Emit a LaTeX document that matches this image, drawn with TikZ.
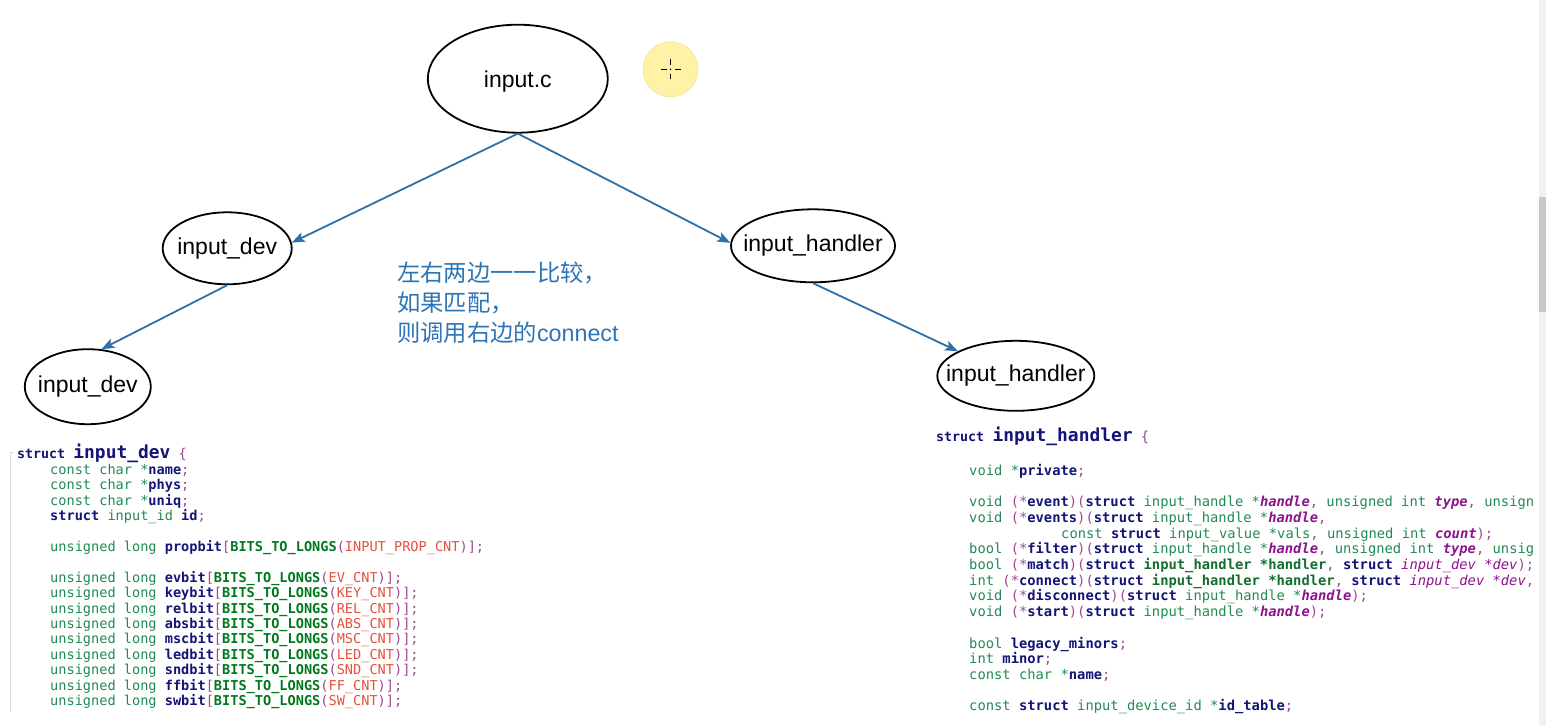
\documentclass[tikz,border=0pt]{standalone}
\usepackage{fontspec}
\setmainfont{Liberation Sans}
\newfontfamily\cjkfont{Noto Sans CJK SC}
\newfontfamily\codefont{DejaVu Sans Mono}
\usetikzlibrary{shapes.geometric,arrows.meta}
\definecolor{arrowblue}{RGB}{46,112,170}
\definecolor{noteblue}{RGB}{46,117,182}
\definecolor{cgreen}{RGB}{34,139,84}
\definecolor{cnavy}{RGB}{20,20,120}
\definecolor{cpunc}{RGB}{160,70,150}
\definecolor{cmacro}{RGB}{0,120,30}
\definecolor{cred}{RGB}{230,80,60}
\definecolor{cparam}{RGB}{140,20,140}
\definecolor{cbgreen}{RGB}{20,110,50}
\definecolor{sunyellow}{RGB}{253,242,165}
\definecolor{sunedge}{RGB}{240,228,150}
\definecolor{sbtrack}{RGB}{241,241,241}
\definecolor{sbthumb}{RGB}{200,200,200}
\definecolor{faintline}{RGB}{222,222,222}
\newcommand\cG[1]{\textcolor{cgreen}{#1}}
\newcommand\cN[1]{\textcolor{cnavy}{\bfseries #1}}
\newcommand\cP[1]{\textcolor{cpunc}{#1}}
\newcommand\cM[1]{\textcolor{cmacro}{\bfseries #1}}
\newcommand\cR[1]{\textcolor{cred}{#1}}
\newcommand\cI[1]{\textcolor{cparam}{\bfseries\itshape #1}}
\newcommand\cJ[1]{\textcolor{cparam}{\itshape #1}}
\newcommand\cB[1]{\textcolor{cbgreen}{\bfseries #1}}
\frenchspacing
\begin{document}
\begin{tikzpicture}[x=1pt,y=-1pt,
  ell/.style={draw, line width=1.8pt, ellipse, inner sep=0pt, font=\fontsize{23}{27}\selectfont},
  arr/.style={draw=arrowblue, line width=1.8pt, -{Stealth[length=13pt,width=10pt,inset=3pt]}},
  notetext/.style={anchor=base west, inner sep=0pt, text=noteblue, font=\fontsize{23.3}{30}\selectfont},
  codeL/.style={anchor=base west, inner sep=0pt, font=\codefont\fontsize{13.6}{15}\selectfont},
  codeR/.style={anchor=base west, inner sep=0pt, font=\codefont\fontsize{13.8}{15}\selectfont},
  cursor/.style={line width=1.3pt, black}]
\useasboundingbox (0,0) rectangle (1546,726);
\fill[white] (0,0) rectangle (1546,726);

% highlighted cursor
\fill[sunyellow, draw=sunedge, line width=0.6pt] (670.5,69.3) circle[radius=27.5];
\draw[cursor] (661,69.3) -- (666.5,69.3) (675,69.3) -- (680.5,69.3)
              (670.5,59.3) -- (670.5,65) (670.5,73.5) -- (670.5,79);
\fill (670.5,69.3) circle[radius=0.8];

% tree nodes
\node[ell, minimum width=180pt, minimum height=108pt] (c) at (517.8,78.7) {\makebox[0pt]{\raisebox{-3pt}[\height][\depth]{input.c}}};
\node[ell, minimum width=129pt, minimum height=72pt] (dev1) at (227.2,248.3) {\makebox[0pt]{input\_dev}};
\node[ell, minimum width=126pt, minimum height=75pt] (dev2) at (87.8,386.7) {\makebox[0pt]{input\_dev}};
\node[ell, minimum width=164pt, minimum height=73pt] (h1) at (813,245.8) {\makebox[0pt]{input\_handler}};
\node[ell, minimum width=157pt, minimum height=70pt] (h2) at (1015.8,375.8) {\makebox[0pt]{input\_handler}};

\draw[arr] (c.south) -- (dev1.5);
\draw[arr] (c.south) -- (h1.178);
\draw[arr] (dev1.south) -- (dev2.70);
\draw[arr] (h1.south) -- (h2.157);

% note
\node[notetext] (note1) at (397,281.5) {\cjkfont 左右两边一一比较，};
\node[notetext] (note2) at (397,311.5) {\cjkfont 如果匹配，};
\node[notetext] (note3) at (397,341.5) {{\cjkfont 则调用右边的}connect};

% left code block
\draw[faintline, line width=1pt] (14,452) -- (10,452) -- (10,712);
\node[codeL] (lh) at (17,458) {\textcolor{cnavy}{\bfseries\fontsize{13.3}{15}\selectfont struct} \textcolor{cnavy}{\bfseries\fontsize{17.9}{20}\selectfont input\_dev} \cP{\{}};
\node[codeL] (l0) at (50,474.5) {\cG{const char *}\cN{name}\cP{;}};
\node[codeL] (l1) at (50,489.9) {\cG{const char *}\cN{phys}\cP{;}};
\node[codeL] (l2) at (50,505.3) {\cG{const char *}\cN{uniq}\cP{;}};
\node[codeL] (l3) at (50,520.7) {\cN{struct} \cG{input\_id} \cN{id}\cP{;}};
\node[codeL] (l5) at (50,551.5) {\cG{unsigned long} \cN{propbit}\cP{[}\cM{BITS\_TO\_LONGS}\cP{(}\cR{INPUT\_PROP\_CNT}\cP{)];}};
\node[codeL] (l7) at (50,582.3) {\cG{unsigned long} \cN{evbit}\cP{[}\cM{BITS\_TO\_LONGS}\cP{(}\cR{EV\_CNT}\cP{)];}};
\node[codeL] (l8) at (50,597.7) {\cG{unsigned long} \cN{keybit}\cP{[}\cM{BITS\_TO\_LONGS}\cP{(}\cR{KEY\_CNT}\cP{)];}};
\node[codeL] (l9) at (50,613.1) {\cG{unsigned long} \cN{relbit}\cP{[}\cM{BITS\_TO\_LONGS}\cP{(}\cR{REL\_CNT}\cP{)];}};
\node[codeL] (l10) at (50,628.5) {\cG{unsigned long} \cN{absbit}\cP{[}\cM{BITS\_TO\_LONGS}\cP{(}\cR{ABS\_CNT}\cP{)];}};
\node[codeL] (l11) at (50,643.9) {\cG{unsigned long} \cN{mscbit}\cP{[}\cM{BITS\_TO\_LONGS}\cP{(}\cR{MSC\_CNT}\cP{)];}};
\node[codeL] (l12) at (50,659.3) {\cG{unsigned long} \cN{ledbit}\cP{[}\cM{BITS\_TO\_LONGS}\cP{(}\cR{LED\_CNT}\cP{)];}};
\node[codeL] (l13) at (50,674.7) {\cG{unsigned long} \cN{sndbit}\cP{[}\cM{BITS\_TO\_LONGS}\cP{(}\cR{SND\_CNT}\cP{)];}};
\node[codeL] (l14) at (50,690.1) {\cG{unsigned long} \cN{ffbit}\cP{[}\cM{BITS\_TO\_LONGS}\cP{(}\cR{FF\_CNT}\cP{)];}};
\node[codeL] (l15) at (50,705.5) {\cG{unsigned long} \cN{swbit}\cP{[}\cM{BITS\_TO\_LONGS}\cP{(}\cR{SW\_CNT}\cP{)];}};

% right code block (lines end where the view cuts them)
\node[codeR] (rh) at (936,441) {\textcolor{cnavy}{\bfseries\fontsize{13.3}{15}\selectfont struct} \textcolor{cnavy}{\bfseries\fontsize{17.9}{20}\selectfont input\_handler} \cP{\{}};
\node[codeR] (r0) at (969,475.3) {\cG{void *}\cN{private}\cP{;}};
\node[codeR] (r2) at (969,506.7) {\cG{void} \cP{(*}\cN{event}\cP{)(}\cN{struct} \cG{input\_handle *}\cI{handle}\cP{,} \cG{unsigned int} \cI{type}\cP{,} \cG{unsign}};
\node[codeR] (r3) at (969,522.4) {\cG{void} \cP{(*}\cN{events}\cP{)(}\cN{struct} \cG{input\_handle *}\cI{handle}\cP{,}};
\node[codeR] (r4) at (1061,538.1) {\cG{const} \cN{struct} \cG{input\_value *vals}\cP{,} \cG{unsigned int} \cI{count}\cP{);}};
\node[codeR] (r5) at (969,553.8) {\cG{bool} \cP{(*}\cN{filter}\cP{)(}\cN{struct} \cG{input\_handle *}\cI{handle}\cP{,} \cG{unsigned int} \cI{type}\cP{,} \cG{unsig}};
\node[codeR] (r6) at (969,569.5) {\cG{bool} \cP{(*}\cN{match}\cP{)(}\cN{struct} \cB{input\_handler *handler}\cP{,} \cN{struct} \cJ{input\_dev *dev}\cP{);}};
\node[codeR] (r7) at (969,585.2) {\cG{int} \cP{(*}\cN{connect}\cP{)(}\cN{struct} \cB{input\_handler *handler}\cP{,} \cN{struct} \cJ{input\_dev *dev}\cP{,}};
\node[codeR] (r8) at (969,600.9) {\cG{void} \cP{(*}\cN{disconnect}\cP{)(}\cN{struct} \cG{input\_handle *}\cI{handle}\cP{);}};
\node[codeR] (r9) at (969,616.6) {\cG{void} \cP{(*}\cN{start}\cP{)(}\cN{struct} \cG{input\_handle *}\cI{handle}\cP{);}};
\node[codeR] (r11) at (969,648.0) {\cG{bool} \cN{legacy\_minors}\cP{;}};
\node[codeR] (r12) at (969,663.7) {\cG{int} \cN{minor}\cP{;}};
\node[codeR] (r13) at (969,679.4) {\cG{const char *}\cN{name}\cP{;}};
\node[codeR] (r15) at (969,710.8) {\cG{const} \cN{struct} \cG{input\_device\_id *}\cN{id\_table}\cP{;}};

% scrollbar
\fill[sbtrack] (1539,0) rectangle (1546,726);
\fill[sbthumb] (1539,197) rectangle (1546,312);
\end{tikzpicture}
\end{document}
